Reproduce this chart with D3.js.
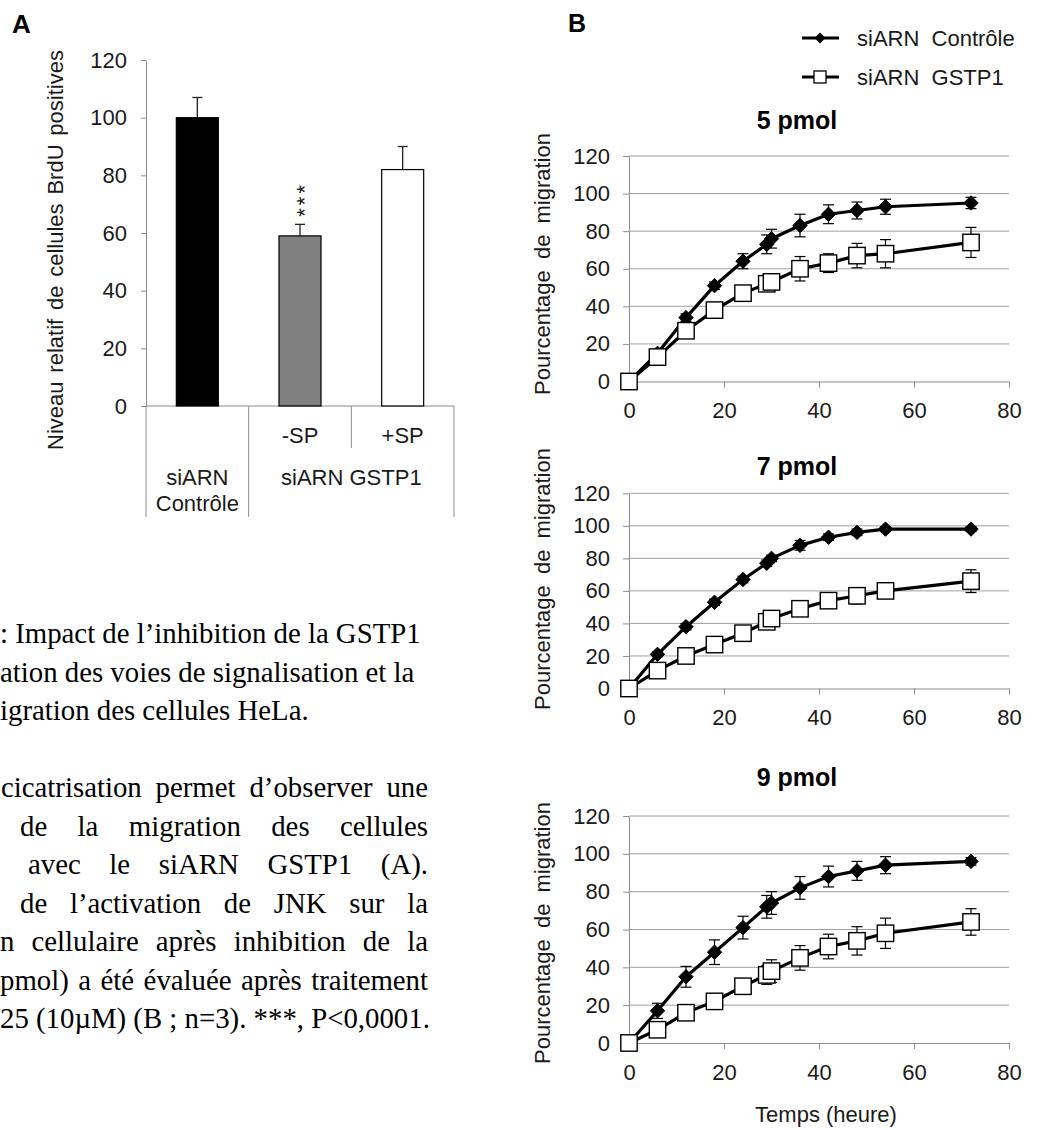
<!DOCTYPE html>
<html><head><meta charset="utf-8">
<script src="https://cdn.jsdelivr.net/npm/d3@7"></script>
<style>body{margin:0;background:#fff}svg{display:block}</style>
</head><body>
<svg id="c" width="1057" height="1130"></svg>
<script>
// ---------- DATA ----------
// Panel A
const barCategories = ["siARN Contrôle", "-SP", "+SP"];
const barValues = [100, 59, 82];
const barErrors = [7, 4, 8];
const yTicksA = [0, 20, 40, 60, 80, 100, 120];
const groupLabels = ["siARN GSTP1"];

// Panel B
const hours = [0, 6, 12, 18, 24, 29, 30, 36, 42, 48, 54, 72];
const doses = ["5 pmol", "7 pmol", "9 pmol"];
const ctrl5 = [0, 15, 34, 51, 64, 73, 76, 83, 89, 91, 93, 95];
const ctrl5Err = [0, 1, 2, 2, 4, 5, 5, 6, 5, 4.5, 4, 3];
const gstp5 = [0, 13, 27, 38, 47, 52, 53, 60, 63, 67, 68, 74];
const gstp5Err = [0, 1, 1, 2, 4, 3, 3, 6.5, 5, 6.5, 7.5, 8];
const ctrl7 = [0, 21, 38, 53, 67, 77, 80, 88, 93, 96, 98, 98];
const ctrl7Err = [0, 1.5, 2, 2, 2, 2, 2, 3, 2, 2, 1.5, 1.5];
const gstp7 = [0, 11, 20, 27, 34, 41, 43, 49, 54, 57, 60, 66];
const gstp7Err = [0, 1.5, 2, 2, 2, 2, 2, 3, 3, 5, 4, 7];
const ctrl9 = [0, 17, 35, 48, 61, 72, 74, 82, 88, 91, 94, 96];
const ctrl9Err = [0, 4, 5.5, 6.5, 6, 6, 6, 6, 5.5, 5, 4.5, 2];
const gstp9 = [0, 7, 16, 22, 30, 36, 38, 45, 51, 54, 58, 64];
const gstp9Err = [0, 1, 1.5, 2, 2, 5, 6, 6.5, 6.5, 7.5, 8, 7];
const seriesNames = ["siARN  Contrôle", "siARN  GSTP1"];
const xTicksB = [0, 20, 40, 60, 80];
const yTicksB = [0, 20, 40, 60, 80, 100, 120];
const xTitleB = "Temps (heure)";
const yTitleB = "Pourcentage de migration";
const yTitleA = "Niveau relatif de cellules BrdU positives";

// Caption text
const captionP1 = [": Impact de l’inhibition de la GSTP1", "ation des voies de signalisation et la", "igration des cellules HeLa."];
const captionP2 = [
  ["cicatrisation", "permet", "d’observer", "une"],
  ["de", "la", "migration", "des", "cellules"],
  ["avec", "le", "siARN", "GSTP1", "(A)."],
  ["de", "l’activation", "de", "JNK", "sur", "la"],
  ["n", "cellulaire", "après", "inhibition", "de", "la"],
  ["pmol)", "a", "été", "évaluée", "après", "traitement"]
];
const captionLast = "25 (10µM) (B ; n=3). ***, P<0,0001.";

// ---------- STYLE / LAYOUT ----------
const SANS = "'Liberation Sans', Arial, sans-serif";
const SERIF = "'Liberation Serif', 'Times New Roman', serif";
const TXT = "#1a1a1a";
const AXIS = "#8c8c8c";
const GRID = "#a0a0a0";
const barFills = ["#000000", "#808080", "#ffffff"];

const svg = d3.select("#c");
svg.append("rect").attr("width", 1057).attr("height", 1130).attr("fill", "#fff");

// ---------- PANEL A ----------
const gA = svg.append("g");
gA.append("text").attr("x", 12).attr("y", 33).attr("font-family", SANS).attr("font-weight", "bold")
  .attr("font-size", 26).attr("fill", "#000").text("A");

const yA = d3.scaleLinear().domain([0, 120]).range([406, 60]);
const xA = d3.scaleBand().domain(barCategories).range([146, 454]).paddingInner(0.591).paddingOuter(0.2955);

const axA = gA.append("g").attr("transform", "translate(146,0)")
  .call(d3.axisLeft(yA).tickValues(yTicksA).tickSize(5).tickSizeOuter(0).tickPadding(14));
axA.select(".domain").attr("stroke", AXIS);
axA.selectAll(".tick line").attr("stroke", AXIS);
axA.selectAll(".tick text").attr("font-family", SANS).attr("font-size", 22).attr("fill", TXT);

// baseline
gA.append("line").attr("x1", 146).attr("x2", 454).attr("y1", yA(0)).attr("y2", yA(0)).attr("stroke", AXIS);

// bars
const barsData = barCategories.map((c, i) => ({c, v: barValues[i], e: barErrors[i], i}));
gA.selectAll("rect.bar").data(barsData).enter().append("rect")
  .attr("x", d => xA(d.c)).attr("width", xA.bandwidth())
  .attr("y", d => yA(d.v)).attr("height", d => yA(0) - yA(d.v))
  .attr("fill", d => barFills[d.i]).attr("stroke", "#000").attr("stroke-width", 1.2);
// error bars (upper only)
barsData.forEach(d => {
  const cx = xA(d.c) + xA.bandwidth() / 2;
  gA.append("line").attr("x1", cx).attr("x2", cx).attr("y1", yA(d.v)).attr("y2", yA(d.v + d.e)).attr("stroke", "#222").attr("stroke-width", 1.3);
  gA.append("line").attr("x1", cx - 5).attr("x2", cx + 5).attr("y1", yA(d.v + d.e)).attr("y2", yA(d.v + d.e)).attr("stroke", "#222").attr("stroke-width", 1.3);
});
// significance stars
{
  const d = barsData[1];
  const cx = xA(d.c) + xA.bandwidth() / 2;
  gA.append("text").attr("transform", `translate(${cx + 12},${yA(d.v + d.e) - 25}) rotate(-90)`)
    .attr("text-anchor", "middle").attr("font-family", SANS).attr("font-size", 22).attr("letter-spacing", 3)
    .attr("fill", TXT).text("***");
}
// category separators & labels
const step = xA.step();
const x0A = 146;
[0, 1, 3].forEach(k => {
  gA.append("line").attr("x1", x0A + k * step).attr("x2", x0A + k * step).attr("y1", yA(0)).attr("y2", 517).attr("stroke", AXIS);
});
gA.append("line").attr("x1", x0A + 2 * step).attr("x2", x0A + 2 * step).attr("y1", yA(0)).attr("y2", 448).attr("stroke", AXIS);
[1, 2].forEach(i => {
  gA.append("text").attr("x", xA(barCategories[i]) + xA.bandwidth() / 2).attr("y", 443)
    .attr("text-anchor", "middle").attr("font-family", SANS).attr("font-size", 22).attr("fill", TXT).text(barCategories[i]);
});
{
  const parts = barCategories[0].split(" ");
  const cx = xA(barCategories[0]) + xA.bandwidth() / 2;
  gA.append("text").attr("x", cx).attr("y", 485).attr("text-anchor", "middle").attr("font-family", SANS).attr("font-size", 22).attr("fill", TXT).text(parts[0]);
  gA.append("text").attr("x", cx).attr("y", 511).attr("text-anchor", "middle").attr("font-family", SANS).attr("font-size", 22).attr("fill", TXT).text(parts[1]);
  gA.append("text").attr("x", x0A + 2 * step).attr("y", 485).attr("text-anchor", "middle").attr("font-family", SANS).attr("font-size", 22).attr("fill", TXT).text(groupLabels[0]);
}
gA.append("text").attr("transform", "translate(63,250) rotate(-90)").attr("text-anchor", "middle")
  .attr("font-family", SANS).attr("font-size", 22).attr("word-spacing", 2.7).attr("fill", TXT).text(yTitleA);

// ---------- CAPTION ----------
const gT = svg.append("g").attr("font-family", SERIF).attr("font-size", 28.8).attr("fill", "#000");
const lh = 38.5;
const p1Base = 643;
const p1X = [0, 0, 0];
captionP1.forEach((t, i) => gT.append("text").attr("x", p1X[i]).attr("y", p1Base + i * lh).text(t));
const p2Base = p1Base + 4 * lh;
const p2Start = [1, 20, 28, 20, 0, 0];
const rightEdge = 428;
captionP2.forEach((words, li) => {
  const y = p2Base + li * lh;
  const nodes = words.map(w => gT.append("text").attr("y", y).text(w));
  const widths = nodes.map(n => n.node().getComputedTextLength());
  const total = d3.sum(widths);
  const gap = (rightEdge - p2Start[li] - total) / (words.length - 1);
  let x = p2Start[li];
  nodes.forEach((n, k) => { n.attr("x", x); x += widths[k] + gap; });
});
gT.append("text").attr("x", 0).attr("y", p2Base + 6 * lh).text(captionLast);

// ---------- PANEL B ----------
const gB = svg.append("g");
gB.append("text").attr("x", 568).attr("y", 32).attr("font-family", SANS).attr("font-weight", "bold")
  .attr("font-size", 25).attr("fill", "#000").text("B");

const panels = [
  {title: doses[0], ctrl: ctrl5, ctrlErr: ctrl5Err, gstp: gstp5, gstpErr: gstp5Err, top: 156, bottom: 381.5, titleY: 129, labelY: 264},
  {title: doses[1], ctrl: ctrl7, ctrlErr: ctrl7Err, gstp: gstp7, gstpErr: gstp7Err, top: 493.3, bottom: 688.5, titleY: 475, labelY: 579},
  {title: doses[2], ctrl: ctrl9, ctrlErr: ctrl9Err, gstp: gstp9, gstpErr: gstp9Err, top: 816, bottom: 1043, titleY: 786, labelY: 933}
];
const xB = d3.scaleLinear().domain([0, 80]).range([629, 1009]);
const diamond = (w) => `M0,${-w}L${w},0L0,${w}L${-w},0Z`;

panels.forEach(p => {
  const g = gB.append("g");
  const y = d3.scaleLinear().domain([0, 120]).range([p.bottom, p.top]);
  // gridlines
  g.selectAll("line.grid").data(yTicksB.filter(v => v > 0)).enter().append("line")
    .attr("x1", xB(0)).attr("x2", xB(80)).attr("y1", d => y(d)).attr("y2", d => y(d)).attr("stroke", GRID);
  const ay = g.append("g").attr("transform", `translate(${xB(0)},0)`)
    .call(d3.axisLeft(y).tickValues(yTicksB).tickSize(6).tickSizeOuter(0).tickPadding(13));
  ay.select(".domain").attr("stroke", AXIS);
  ay.selectAll(".tick line").attr("stroke", AXIS);
  ay.selectAll(".tick text").attr("font-family", SANS).attr("font-size", 22).attr("fill", TXT);
  const ax = g.append("g").attr("transform", `translate(0,${p.bottom})`)
    .call(d3.axisBottom(xB).tickValues(xTicksB).tickSize(6).tickSizeOuter(0).tickPadding(15));
  ax.select(".domain").attr("stroke", AXIS);
  ax.selectAll(".tick line").attr("stroke", AXIS);
  ax.selectAll(".tick text").attr("font-family", SANS).attr("font-size", 22).attr("fill", TXT);
  // title
  g.append("text").attr("x", 797).attr("y", p.titleY).attr("text-anchor", "middle").attr("font-family", SANS)
    .attr("font-weight", "bold").attr("font-size", 25).attr("fill", "#000").text(p.title);
  // y label
  g.append("text").attr("transform", `translate(550,${p.labelY}) rotate(-90)`).attr("text-anchor", "middle")
    .attr("font-family", SANS).attr("font-size", 22).attr("word-spacing", 5).attr("fill", TXT).text(yTitleB);

  const line = d3.line().x(d => xB(d.t)).y(d => y(d.v));
  const drawSeries = (vals, errs, kind) => {
    const data = hours.map((t, i) => ({t, v: vals[i], e: errs[i]}));
    // error bars
    data.filter(d => d.e > 0).forEach(d => {
      const cx = xB(d.t);
      g.append("line").attr("x1", cx).attr("x2", cx).attr("y1", y(d.v - d.e)).attr("y2", y(d.v + d.e)).attr("stroke", "#000").attr("stroke-width", 1.2);
      [d.v - d.e, d.v + d.e].forEach(v => g.append("line").attr("x1", cx - 5.5).attr("x2", cx + 5.5).attr("y1", y(v)).attr("y2", y(v)).attr("stroke", "#000").attr("stroke-width", 1.2));
    });
    g.append("path").datum(data).attr("d", line).attr("fill", "none").attr("stroke", "#000").attr("stroke-width", 3.2).attr("stroke-linejoin", "round");
    if (kind === "diamond") {
      g.selectAll(null).data(data).enter().append("path").attr("d", diamond(7.2))
        .attr("transform", d => `translate(${xB(d.t)},${y(d.v)})`).attr("fill", "#000").attr("stroke", "#000").attr("stroke-width", 1);
    } else {
      g.selectAll(null).data(data).enter().append("rect")
        .attr("x", d => xB(d.t) - 8.2).attr("y", d => y(d.v) - 8.2).attr("width", 16.4).attr("height", 16.4)
        .attr("fill", "#fff").attr("stroke", "#000").attr("stroke-width", 1.4);
    }
  };
  drawSeries(p.ctrl, p.ctrlErr, "diamond");
  drawSeries(p.gstp, p.gstpErr, "square");
});

// x-axis title (bottom panel)
gB.append("text").attr("x", 826).attr("y", 1122).attr("text-anchor", "middle").attr("font-family", SANS)
  .attr("font-size", 22).attr("fill", TXT).text(xTitleB);

// legend
const legY = [38, 77];
seriesNames.forEach((name, i) => {
  const g = gB.append("g");
  g.append("line").attr("x1", 802).attr("x2", 839).attr("y1", legY[i]).attr("y2", legY[i]).attr("stroke", "#000").attr("stroke-width", 3.2);
  if (i === 0) {
    g.append("path").attr("d", diamond(5.5)).attr("transform", `translate(820,${legY[i]})`).attr("fill", "#000");
  } else {
    g.append("rect").attr("x", 814).attr("y", legY[i] - 6).attr("width", 12).attr("height", 12).attr("fill", "#fff").attr("stroke", "#000").attr("stroke-width", 1.3);
  }
  g.append("text").attr("x", 857).attr("y", legY[i] + 8).attr("font-family", SANS).attr("font-size", 22)
    .attr("fill", TXT).style("white-space", "pre").text(name);
});
</script>
</body></html>
